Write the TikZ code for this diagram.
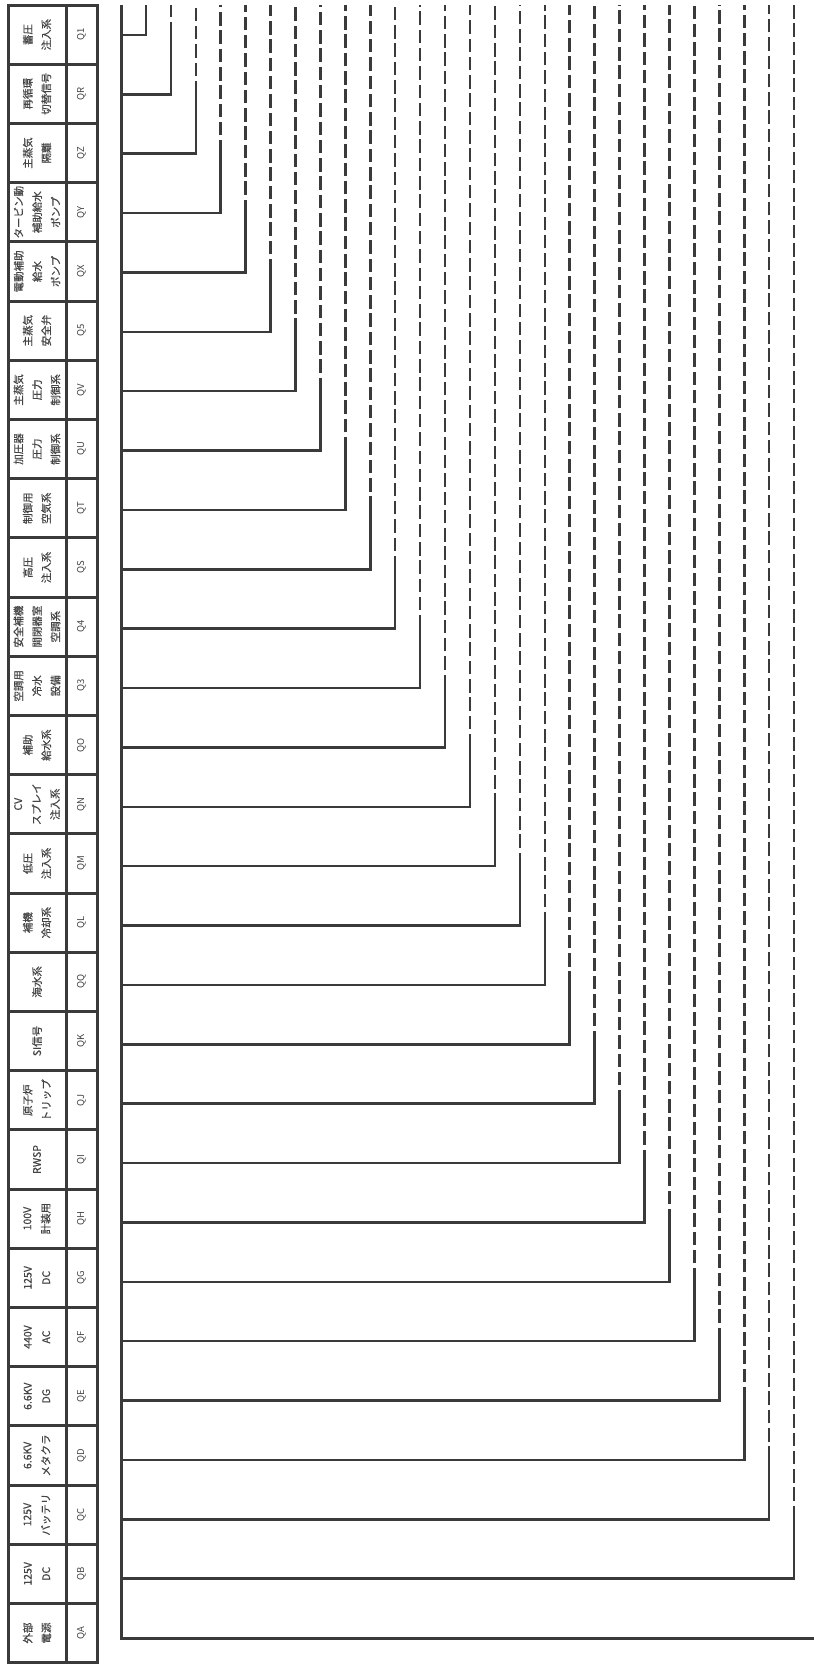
\documentclass[tikz,border=0pt]{standalone}
\usepackage{fontspec}
\setmainfont{Noto Sans CJK JP}
\newfontfamily\lblfont{Noto Sans CJK JP}[FakeBold=0.6]
\definecolor{ink}{HTML}{3A3A3A}
\definecolor{txt}{HTML}{444444}

\begin{document}
\begin{tikzpicture}[x=1pt,y=-1pt,color=ink,
   grid/.style={line width=3pt},
   lbl/.style={rotate=90,inner sep=0pt,align=center,text=txt,font=\lblfont\fontsize{10.5}{18.5}\selectfont},
   code/.style={lbl,text=txt,font=\fontsize{9.5}{10}\selectfont},
   branch/.style={line width=2.5pt},
   tail/.style={branch,dash pattern=on 13.5pt off 4.8pt}]
  \useasboundingbox (0,0) rectangle (814,1666);
  \draw[grid] (8,5) rectangle (97,1662) (66,5) -- (66,1662);
  \foreach \n/\t [count=\i from 0] in {Q1/{蓄圧\\注入系},QR/{再循環\\切替信号},QZ/{主蒸気\\隔離},
      QY/{タービン動\\補助給水\\ポンプ},QX/{電動補助\\給水\\ポンプ},Q5/{主蒸気\\安全弁},
      QV/{主蒸気\\圧力\\制御系},QU/{加圧器\\圧力\\制御系},QT/{制御用\\空気系},QS/{高圧\\注入系},
      Q4/{安全補機\\開閉器室\\空調系},Q3/{空調用\\冷水\\設備},QO/{補助\\給水系},
      QN/{CV\\スプレイ\\注入系},QM/{低圧\\注入系},QL/{補機\\冷却系},QQ/{海水系},QK/{SI信号},
      QJ/{原子炉\\トリップ},QI/{RWSP},QH/{100V\\計装用},QG/{125V\\DC},QF/{440V\\AC},
      QE/{6.6KV\\DG},QD/{6.6KV\\メタクラ},QC/{125V\\バッテリ},QB/{125V\\DC},QA/{外部\\電源}}{
    \node[lbl] (l\n) at (37,{34.6+59.2*\i}) {\t};
    \node[code] (c\n) at (81.5,{34.6+59.2*\i}) {\n};
    \draw[grid] (8,{5+59.2*\i}) -- (97,{5+59.2*\i});
    \coordinate (t\n) at (121,{35+59.37*\i});
    \coordinate (e\n) at ({121+24.93*(\i+1)},5);
  }
  \coordinate (top) at (121,5);
  \coordinate (out) at (814,0);
  \draw[line width=3pt] (top) |- (tQA -| out);
  \draw[branch] (tQ1) -| (eQ1);
  \foreach \n/\p in {QR/Q1,QZ/QR,QY/QZ,QX/QY,Q5/QX,QV/Q5,QU/QV,QT/QU,QS/QT,Q4/QS,Q3/Q4,
      QO/Q3,QN/QO,QM/QN,QL/QM,QQ/QL,QK/QQ,QJ/QK,QI/QJ,QH/QI,QG/QH,QF/QG,QE/QF,QD/QE,
      QC/QD,QB/QC}{
    \draw[branch] (t\n) -| (t\p -| e\n);
    \draw[tail] (t\p -| e\n) -- (e\n);
  }
\end{tikzpicture}
\end{document}
